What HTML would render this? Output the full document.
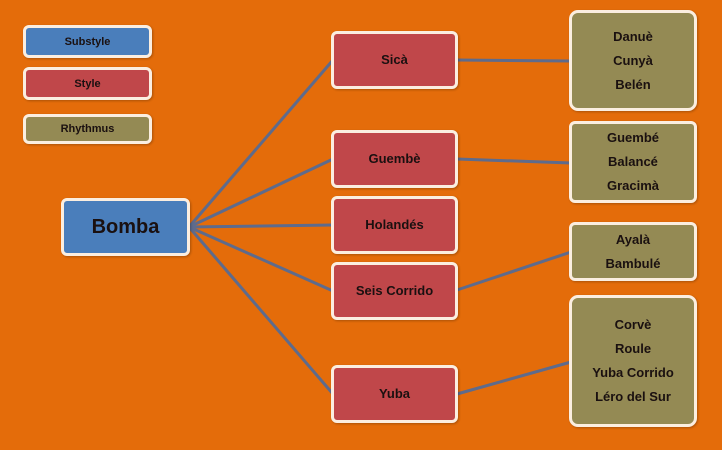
<!DOCTYPE html>
<html><head><meta charset="utf-8"><style>
body{margin:0;width:722px;height:450px;background:#e46c0a;position:relative;overflow:hidden;font-family:"Liberation Sans",sans-serif;font-weight:bold;}
.b{position:absolute;box-sizing:border-box;border:3px solid #fbeee0;border-radius:6px;display:flex;flex-direction:column;align-items:center;justify-content:center;color:#1a1010;font-size:13px;line-height:24px;text-align:center;box-shadow:1px 1px 2px rgba(0,0,0,.25);}
.bl{background:#4a7ebb;}.r{background:#c0474a;}.o{background:#948a54;}
svg{position:absolute;left:0;top:0}
</style></head><body>
<svg width="722" height="450"><g stroke="#5e6b8c" stroke-width="3" fill="none">
<line x1="189" y1="227" x2="333" y2="60"/>
<line x1="189" y1="227" x2="333" y2="159"/>
<line x1="189" y1="227" x2="333" y2="225"/>
<line x1="189" y1="227" x2="333" y2="291"/>
<line x1="189" y1="227" x2="333" y2="394"/>
<line x1="457" y1="60" x2="571" y2="61"/>
<line x1="457" y1="159" x2="571" y2="163"/>
<line x1="457" y1="290" x2="571" y2="252"/>
<line x1="457" y1="394" x2="571" y2="362"/>
</g></svg>
<div class="b bl" style="left:23px;top:25px;width:129px;height:33px;font-size:11px">Substyle</div>
<div class="b r" style="left:23px;top:67px;width:129px;height:33px;font-size:11px">Style</div>
<div class="b o" style="left:23px;top:114px;width:129px;height:30px;font-size:11px">Rhythmus</div>
<div class="b bl" style="left:61px;top:198px;width:129px;height:58px;font-size:20px">Bomba</div>
<div class="b r" style="left:331px;top:31px;width:127px;height:58px">Sicà</div>
<div class="b r" style="left:331px;top:130px;width:127px;height:58px">Guembè</div>
<div class="b r" style="left:331px;top:196px;width:127px;height:58px">Holandés</div>
<div class="b r" style="left:331px;top:262px;width:127px;height:58px">Seis Corrido</div>
<div class="b r" style="left:331px;top:365px;width:127px;height:58px">Yuba</div>
<div class="b o" style="left:569px;top:10px;width:128px;height:101px;border-radius:9px">Danuè<br>Cunyà<br>Belén</div>
<div class="b o" style="left:569px;top:121px;width:128px;height:82px">Guembé<br>Balancé<br>Gracimà</div>
<div class="b o" style="left:569px;top:222px;width:128px;height:59px">Ayalà<br>Bambulé</div>
<div class="b o" style="left:569px;top:295px;width:128px;height:132px;border-radius:9px">Corvè<br>Roule<br>Yuba Corrido<br>Léro del Sur</div>
</body></html>
